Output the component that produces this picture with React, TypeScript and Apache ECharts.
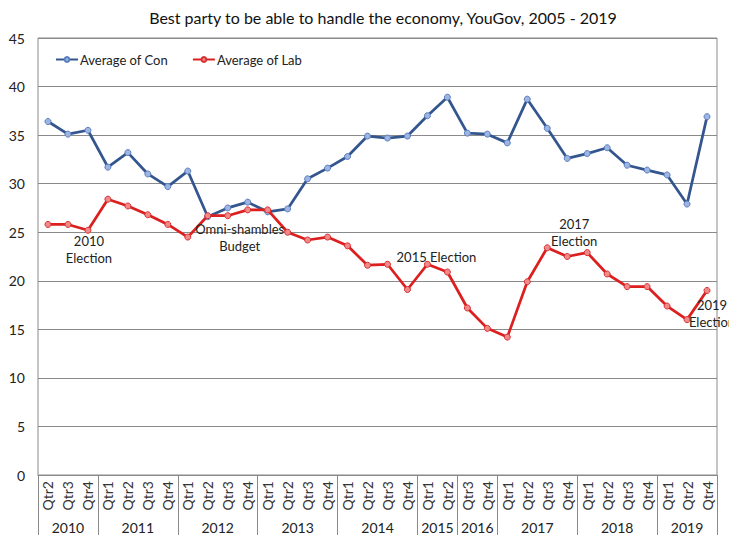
import React, { useEffect, useRef } from "react";
import * as echarts from "echarts";

const years = ["2010", "2011", "2012", "2013", "2014", "2015", "2016", "2017", "2018", "2019"];
const yearQuarters: string[][] = [
  ["Qtr2", "Qtr3", "Qtr4"],
  ["Qtr1", "Qtr2", "Qtr3", "Qtr4"],
  ["Qtr1", "Qtr2", "Qtr3", "Qtr4"],
  ["Qtr1", "Qtr2", "Qtr3", "Qtr4"],
  ["Qtr1", "Qtr2", "Qtr3", "Qtr4"],
  ["Qtr1", "Qtr2"],
  ["Qtr3", "Qtr4"],
  ["Qtr1", "Qtr2", "Qtr3", "Qtr4"],
  ["Qtr1", "Qtr2", "Qtr3", "Qtr4"],
  ["Qtr1", "Qtr2", "Qtr4"],
];

const conValues = [
  36.4, 35.1, 35.5, 31.7, 33.2, 31.0, 29.7, 31.3, 26.6, 27.5, 28.1, 27.1, 27.4, 30.5, 31.6, 32.8,
  34.9, 34.7, 34.9, 37.0, 38.9, 35.2, 35.1, 34.2, 38.7, 35.7, 32.6, 33.1, 33.7, 31.9, 31.4, 30.9,
  27.9, 36.9,
];
const labValues = [
  25.8, 25.8, 25.2, 28.4, 27.7, 26.8, 25.8, 24.5, 26.7, 26.7, 27.3, 27.3, 25.0, 24.2, 24.5, 23.6,
  21.6, 21.7, 19.1, 21.7, 20.9, 17.2, 15.1, 14.2, 19.9, 23.4, 22.5, 22.9, 20.7, 19.4, 19.4, 17.4,
  16.0, 19.0,
];

const annotations = [
  { text: "2010\nElection", idx: 2, value: 23.2, dx: 1 },
  { text: "Omni-shambles\nBudget", idx: 10, value: 24.5, dx: -8 },
  { text: "2015 Election", idx: 19, value: 22.5, dx: 9 },
  { text: "2017\nElection", idx: 26, value: 24.95, dx: 7 },
  { text: "2019\nElection", idx: 33, value: 16.6, dx: 5 },
];

const quarterLabels: string[] = yearQuarters.flat();

// half-slot axis for year group labels & separators
const yearSlots: string[] = new Array(quarterLabels.length * 2 + 1).fill("");
const boundarySlots = new Set<number>();
{
  let s = 0;
  yearQuarters.forEach((qs, i) => {
    boundarySlots.add(2 * s);
    yearSlots[2 * s + qs.length] = years[i];
    s += qs.length;
  });
  boundarySlots.add(2 * s);
}

const FONT = "Lato, 'Open Sans', sans-serif";

export default function App() {
  const ref = useRef<HTMLDivElement>(null);
  useEffect(() => {
    if (!ref.current) return;
    const chart = echarts.init(ref.current, undefined, { renderer: "svg" });
    chart.setOption({
      animation: false,
      backgroundColor: "#ffffff",
      textStyle: { fontFamily: FONT },
      title: {
        text: "Best party to be able to handle the economy, YouGov, 2005 - 2019",
        left: 378,
        textAlign: "center",
        top: 4,
        textStyle: { fontFamily: FONT, fontSize: 16, fontWeight: "normal", color: "#111" },
      },
      legend: {
        left: 50,
        top: 48,
        itemWidth: 22,
        itemHeight: 6,
        itemGap: 24,
        textStyle: { fontFamily: FONT, fontSize: 13, color: "#222", padding: [0, 0, 0, -3] },
        data: ["Average of Con", "Average of Lab"],
      },
      grid: {
        left: 38,
        right: 12,
        top: 38,
        bottom: 60,
        show: true,
        borderColor: "#8a8a8a",
        borderWidth: 1,
        containLabel: false,
      },
      xAxis: [
        {
          type: "category",
          data: quarterLabels,
          boundaryGap: true,
          axisLine: { show: true, lineStyle: { color: "#8a8a8a" } },
          axisTick: { show: false },
          axisLabel: {
            rotate: 90,
            interval: 0,
            margin: 6,
            fontFamily: FONT,
            fontSize: 14,
            color: "#333",
          },
        },
        {
          type: "category",
          data: yearSlots,
          boundaryGap: false,
          position: "bottom",
          axisLine: { show: false },
          axisTick: {
            show: true,
            length: 62,
            interval: (i: number) => boundarySlots.has(i),
            lineStyle: { color: "#8a8a8a" },
          },
          axisLabel: {
            interval: (i: number, v: string) => v !== "",
            margin: 45,
            fontFamily: FONT,
            fontSize: 14,
            color: "#222",
          },
        },
      ],
      yAxis: {
        type: "value",
        min: 0,
        max: 45,
        interval: 5,
        axisLine: { show: false },
        axisTick: { show: false },
        splitLine: { lineStyle: { color: "#8a8a8a", width: 1 } },
        axisLabel: { margin: 13, fontFamily: FONT, fontSize: 14, color: "#222" },
      },
      series: [
        {
          name: "Average of Con",
          type: "line",
          data: conValues,
          symbol: "circle",
          symbolSize: 6,
          lineStyle: { color: "#34568F", width: 2.75 },
          itemStyle: { color: "#9DB5E0", borderColor: "#5A7EC0", borderWidth: 1 },
          color: "#34568F",
          z: 3,
        },
        {
          name: "Average of Lab",
          type: "line",
          data: labValues,
          symbol: "circle",
          symbolSize: 6,
          lineStyle: { color: "#DC1F1F", width: 2.75 },
          itemStyle: { color: "#F08A8A", borderColor: "#D83030", borderWidth: 1 },
          color: "#DC1F1F",
          z: 4,
          markPoint: {
            symbol: "circle",
            symbolSize: 0,
            silent: true,
            data: annotations.map((a) => ({
              coord: [a.idx, a.value],
              label: {
                show: true,
                formatter: a.text,
                position: "inside",
                offset: [a.dx, 0],
                fontFamily: FONT,
                fontSize: 13,
                lineHeight: 17,
                color: "#222",
                align: "center",
              },
            })),
          },
        },
      ],
    });
    return () => chart.dispose();
  }, []);
  return <div ref={ref} style={{ width: 729, height: 535, position: "absolute", left: 0, top: 0 }} />;
}
